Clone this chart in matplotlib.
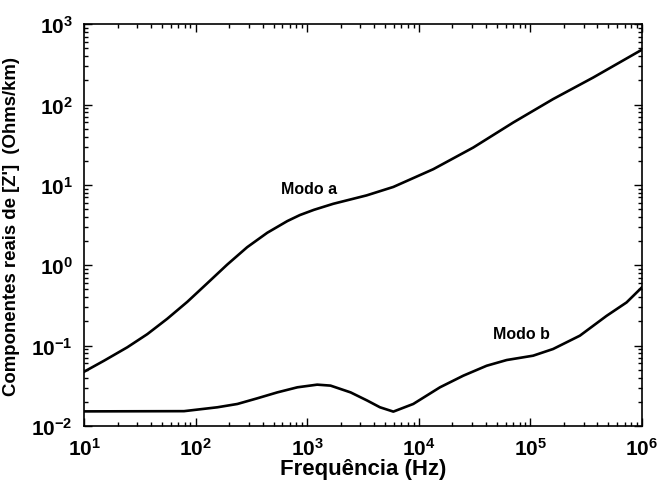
import matplotlib
matplotlib.use("Agg")
import matplotlib.pyplot as plt
from matplotlib.ticker import FuncFormatter, LogLocator
import numpy as np

plt.rcParams['font.family'] = ['Liberation Sans', 'DejaVu Sans']
plt.rcParams['font.weight'] = 'bold'
plt.rcParams['mathtext.fontset'] = 'custom'
plt.rcParams['mathtext.rm'] = 'Liberation Sans:bold'
plt.rcParams['mathtext.bf'] = 'Liberation Sans:bold'
plt.rcParams['mathtext.it'] = 'Liberation Sans:bold'

freq_a = [10, 15.1, 24.4, 36.9, 55.7, 84.3, 127, 192, 290, 439, 664, 861, 1150, 1710,
          3410, 5920, 13500, 30800, 70300, 160000, 366000, 959000, 1000000]
modo_a = [0.0473, 0.0649, 0.0953, 0.139, 0.216, 0.351, 0.596, 1.02, 1.68, 2.54, 3.55,
          4.22, 4.90, 5.82, 7.41, 9.44, 15.7, 29.2, 59.8, 117, 217, 466, 479]

freq_b = [10, 78.7, 157, 237, 357, 540, 817, 1230, 1620, 2450, 3460, 4490, 5920, 8930,
          15500, 25100, 40600, 61400, 106000, 160000, 278000, 483000, 729000, 1000000]
modo_b = [0.0152, 0.0153, 0.0171, 0.0188, 0.0221, 0.0262, 0.0303, 0.0327, 0.0318, 0.0262,
          0.0207, 0.0171, 0.0151, 0.0188, 0.0303, 0.0423, 0.0562, 0.0662, 0.075, 0.0908,
          0.133, 0.235, 0.345, 0.531]

fig = plt.figure(figsize=(6.57, 4.85), dpi=100)
ax = fig.add_axes([0.1279, 0.1196, 0.977 - 0.1279, 0.948 - 0.1196])

ax.loglog(freq_a, modo_a, color='black', lw=1.9, solid_joinstyle='round')
ax.loglog(freq_b, modo_b, color='black', lw=1.9, solid_joinstyle='round')

ax.set_xlim(10, 1e6)
ax.set_ylim(1e-2, 1e3)

fmt = FuncFormatter(lambda v, p: r'$\mathbf{10^{%d}}$' % int(round(np.log10(v))))
ax.xaxis.set_major_locator(LogLocator(base=10, numticks=10))
ax.yaxis.set_major_locator(LogLocator(base=10, numticks=10))
ax.xaxis.set_minor_locator(LogLocator(base=10, subs=np.arange(2, 10), numticks=20))
ax.yaxis.set_minor_locator(LogLocator(base=10, subs=np.arange(2, 10), numticks=20))
ax.xaxis.set_major_formatter(fmt)
ax.yaxis.set_major_formatter(fmt)
ax.tick_params(which='both', direction='in', top=True, right=True, width=1)
ax.tick_params(which='major', length=6, labelsize=15, pad=8)
ax.tick_params(which='minor', length=3)
for s in ax.spines.values():
    s.set_linewidth(1.2)

ax.set_xlabel('Frequência (Hz)', fontsize=16, fontweight='bold', labelpad=-1)
ax.set_ylabel("Componentes reais de [Z']  (Ohms/km)", fontsize=13.4, fontweight='bold', labelpad=8)

ax.text(1040, 8.9, 'Modo a', fontsize=11.5, fontweight='bold', ha='center', va='center')
ax.text(84100, 0.1436, 'Modo b', fontsize=11.5, fontweight='bold', ha='center', va='center')

fig.savefig('out.png', dpi=100)
